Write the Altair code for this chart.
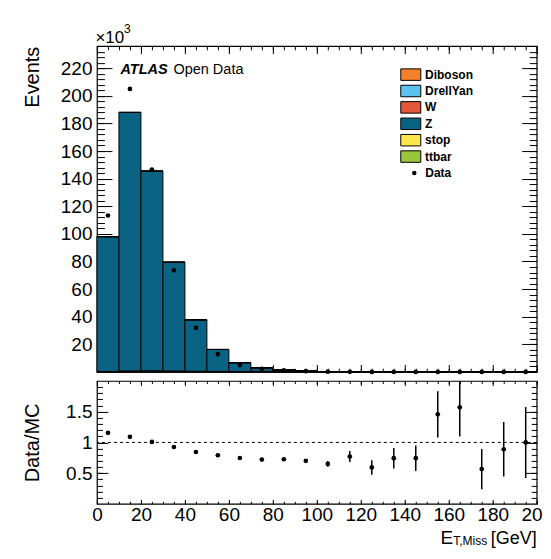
import math
import altair as alt
import pandas as pd

# ---------------- data (events per 10 GeV bin) ----------------
bin_low = [0, 10, 20, 30, 40, 50, 60, 70, 80, 90, 100, 110, 120, 130, 140, 150, 160, 170, 180, 190]
bin_width = 10
processes = ["Diboson", "DrellYan", "W", "Z", "stop", "ttbar"]
colors = ["#f5802b", "#5cc3ef", "#e3573b", "#0b6384", "#fde74c", "#9bc53d"]

diboson = [20, 40, 50, 45, 35, 25, 18, 12, 9, 7, 5, 3, 2, 1.5, 1.2, 0.9, 0.7, 0.5, 0.4, 0.3]
drellyan = [300, 600, 700, 600, 450, 350, 300, 400, 450, 300, 100, 30, 12, 8, 5, 3, 2, 1.5, 1, 0.8]
w_boson = [60, 110, 90, 60, 35, 20, 12, 8, 5, 3, 2, 1, 0.6, 0.4, 0.3, 0.2, 0.15, 0.1, 0.1, 0.1]
z_boson = [97608, 187226, 144630, 78765, 37256, 15887, 6356, 2568, 1027, 483, 187, 56, 24, 14, 8.6, 4.3, 2.65, 2.0, 2.1, 1.1]
stop = [2, 4, 5, 5, 4, 3, 2.5, 2, 1.5, 1.2, 1, 0.8, 0.6, 0.5, 0.4, 0.3, 0.2, 0.2, 0.1, 0.1]
ttbar = [10, 20, 25, 25, 20, 15, 12, 10, 8, 6, 5, 4, 3, 2.5, 2, 1.6, 1.3, 1, 0.8, 0.6]
data_counts = [113300, 205000, 146600, 73600, 31900, 12900, 5000, 2160, 1090, 560,
               195, 73, 25, 20, 13, 15, 11, 3, 4, 3]

# tick values
x_major = [0, 20, 40, 60, 80, 100, 120, 140, 160, 180, 200]
x_minor = list(range(0, 201, 5))
main_y_major = [20000, 40000, 60000, 80000, 100000, 120000, 140000, 160000, 180000, 200000, 220000]
main_y_minor = list(range(4000, 236000, 4000))
ratio_y_major = [0.5, 1.0, 1.5]
ratio_y_minor = [0.1, 0.2, 0.3, 0.4, 0.5, 0.6, 0.7, 0.8, 0.9, 1.0, 1.1, 1.2, 1.3, 1.4, 1.5, 1.6, 1.7, 1.8, 1.9]

# ---------------- tables ----------------
series = [diboson, drellyan, w_boson, z_boson, stop, ttbar]
rows = []
for k, (name, vals) in enumerate(zip(processes, series)):
    for lo, v in zip(bin_low, vals):
        rows.append({"process": name, "order": k, "lo": lo, "hi": lo + bin_width, "events": v})
bars_df = pd.DataFrame(rows)

mc_total = [sum(s[i] for s in series) for i in range(len(bin_low))]
pts_df = pd.DataFrame({
    "center": [b + bin_width / 2 for b in bin_low],
    "data": data_counts,
    "kind": ["Data"] * len(bin_low),
    "ratio": [d / m for d, m in zip(data_counts, mc_total)],
    "rlo": [(d - math.sqrt(d)) / m for d, m in zip(data_counts, mc_total)],
    "rhi": [(d + math.sqrt(d)) / m for d, m in zip(data_counts, mc_total)],
})

W, H1, H2 = 440, 326, 123
FONT = "Liberation Sans"
xs = alt.Scale(domain=[0, 200], nice=False, zero=False)
ys_main = alt.Scale(domain=[0, 236000], nice=False)
ys_ratio = alt.Scale(domain=[0, 2], nice=False)


def tick_axis(orient, values, size, offset):
    return alt.Axis(orient=orient, values=values, tickSize=size, offset=offset, ticks=True,
                    labels=False, domain=False, title=None, grid=False,
                    tickColor="black", tickWidth=1)


def axis_layer(yfield, xscale, yscale, xaxis, yaxis):
    return alt.Chart(pts_df).mark_point(opacity=0).encode(
        x=alt.X("center:Q", scale=xscale, axis=xaxis),
        y=alt.Y(yfield, scale=yscale, axis=yaxis),
    )


def label(text, x, y, size, weight="normal", style="normal", align="left"):
    return alt.Chart(pd.DataFrame({"t": [text]})).mark_text(
        align=align, baseline="alphabetic", fontSize=size, fontWeight=weight,
        fontStyle=style, font=FONT, color="black"
    ).encode(text="t:N", x=alt.value(x), y=alt.value(y))


# ---------------- main panel ----------------
bars = alt.Chart(bars_df).transform_stack(
    stack="events", groupby=["lo"], as_=["y0", "y1"],
    sort=[alt.SortField("order", order="ascending")]
).mark_bar(stroke="black", strokeWidth=1).encode(
    x=alt.X("lo:Q", scale=xs, axis=None),
    x2="hi:Q",
    y=alt.Y("y0:Q", scale=ys_main, axis=None),
    y2="y1:Q",
    color=alt.Color("process:N", scale=alt.Scale(domain=processes, range=colors),
                    legend=alt.Legend(orient="none", legendX=306, legendY=20.5, title=None,
                                      symbolType="M-1.333,-0.767H1.333V0.767H-1.333Z", symbolSize=225,
                                      symbolStrokeColor="black", symbolStrokeWidth=1,
                                      symbolOpacity=1, labelFontSize=12, labelFontWeight="bold",
                                      labelFont=FONT, labelColor="black", labelOffset=6.3,
                                      rowPadding=0.4, padding=0)),
)

points = alt.Chart(pts_df).mark_point(filled=True, size=22, color="black", opacity=1).encode(
    x=alt.X("center:Q", scale=xs, axis=None),
    y=alt.Y("data:Q", scale=ys_main, axis=None),
    shape=alt.Shape("kind:N", scale=alt.Scale(range=["circle"]),
                    legend=alt.Legend(orient="none", legendX=311.5, legendY=121, title=None,
                                      symbolFillColor="black", symbolStrokeWidth=0, symbolSize=20,
                                      labelFontSize=12, labelFontWeight="bold", labelFont=FONT,
                                      labelColor="black", labelOffset=5, padding=0)),
)

main_labels = axis_layer("data:Q", xs, ys_main, None, alt.Axis(
    orient="left", values=main_y_major, labelExpr="format(datum.value/1000,'d')",
    ticks=False, tickSize=0, domain=False, grid=False, labelFontSize=19, labelFont=FONT,
    labelColor="black", labelPadding=5, labelOverlap=False, title="Events", titleFontSize=20,
    titleFont=FONT, titleFontWeight="normal", titleColor="black", titleAnchor="end", titleX=-58,
    titleBaseline="alphabetic", titleAngle=270))

main_axes = [
    axis_layer("data:Q", xs, ys_main, tick_axis("top", x_major, 7.5, -H1), tick_axis("right", main_y_major, 15, -W)),
    axis_layer("data:Q", xs, ys_main, tick_axis("top", x_minor, 3.7, -H1), tick_axis("right", main_y_minor, 7.5, -W)),
    axis_layer("data:Q", xs, ys_main, tick_axis("bottom", x_major, 7.5, -H1), tick_axis("left", main_y_major, 15, -W)),
    axis_layer("data:Q", xs, ys_main, tick_axis("bottom", x_minor, 3.7, -H1), tick_axis("left", main_y_minor, 7.5, -W)),
]

main = alt.layer(
    bars, points, main_labels, *main_axes,
    label("×10", -1.5, -3.5, 17),
    label("3", 27, -13, 12),
    label("ATLAS", 23.5, 27.5, 14.5, weight="bold", style="italic"),
    label("Open Data", 76.5, 27.5, 14.5),
).resolve_axis(x="independent", y="independent").properties(width=W, height=H1)

# ---------------- ratio panel ----------------
ref_line = alt.Chart(pd.DataFrame({"one": [1.0]})).mark_rule(
    strokeDash=[3, 3], color="black", strokeWidth=1
).encode(y=alt.Y("one:Q", scale=ys_ratio, axis=None))

err = alt.Chart(pts_df).mark_rule(color="black", strokeWidth=1.5, clip=True).encode(
    x=alt.X("center:Q", scale=xs, axis=None),
    y=alt.Y("rlo:Q", scale=ys_ratio, axis=None),
    y2="rhi:Q",
)
rpts = alt.Chart(pts_df).mark_circle(size=22, color="black", opacity=1).encode(
    x=alt.X("center:Q", scale=xs, axis=None),
    y=alt.Y("ratio:Q", scale=ys_ratio, axis=None),
)

ratio_labels = axis_layer("ratio:Q", xs, ys_ratio, alt.Axis(
    orient="bottom", values=x_major, format="d", ticks=False, tickSize=0, domain=False,
    grid=False, labelFontSize=19, labelFont=FONT, labelColor="black", labelPadding=1.5,
    labelOverlap=False, labelFlush=False, title=None), alt.Axis(
    orient="left", values=ratio_y_major, format="~g", ticks=False, tickSize=0, domain=False,
    grid=False, labelFontSize=19, labelFont=FONT, labelColor="black", labelPadding=5,
    labelOverlap=False, title="Data/MC", titleFontSize=20, titleFont=FONT,
    titleFontWeight="normal", titleColor="black", titleAnchor="middle", titleX=-58,
    titleBaseline="alphabetic", titleAngle=270))

ratio_axes = [
    axis_layer("ratio:Q", xs, ys_ratio, tick_axis("top", x_major, 4.5, -H2), tick_axis("right", ratio_y_major, 11, -W)),
    axis_layer("ratio:Q", xs, ys_ratio, tick_axis("top", x_minor, 2.5, -H2), tick_axis("right", ratio_y_minor, 5.5, -W)),
    axis_layer("ratio:Q", xs, ys_ratio, tick_axis("bottom", x_major, 4.5, -H2), tick_axis("left", ratio_y_major, 11, -W)),
    axis_layer("ratio:Q", xs, ys_ratio, tick_axis("bottom", x_minor, 2.5, -H2), tick_axis("left", ratio_y_minor, 5.5, -W)),
]

ratio = alt.layer(
    ref_line, err, rpts, ratio_labels, *ratio_axes,
    label("E", 356.5, 163, 19, align="right"),
    label("T,Miss", 390.5, 164, 12, align="right"),
    label("[GeV]", 440, 163, 18, align="right"),
).resolve_axis(x="independent", y="independent").properties(width=W, height=H2)

chart = alt.vconcat(main, ratio, spacing=3).resolve_scale(
    color="independent", shape="independent"
).resolve_legend(color="independent", shape="independent").properties(
    padding={"left": 14, "top": 14, "right": -10.7, "bottom": 0}
).configure(font=FONT).configure_view(stroke="black", strokeWidth=1.2).configure_axis(grid=False)

chart.save("out.html", embed_options={"renderer": "svg", "actions": False})
